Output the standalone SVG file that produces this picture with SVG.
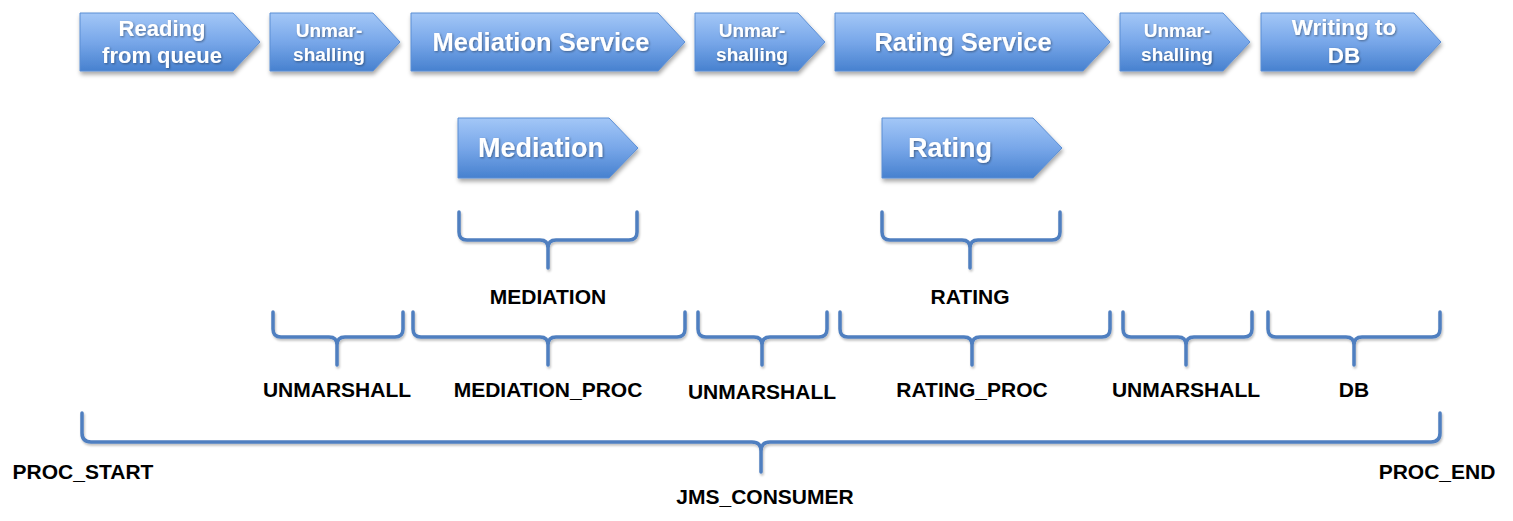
<svg xmlns="http://www.w3.org/2000/svg" width="1513" height="521" viewBox="0 0 1513 521">
<defs>
<linearGradient id="g" x1="0" y1="0" x2="0" y2="1">
<stop offset="0" stop-color="#a3c7f7"/>
<stop offset="0.5" stop-color="#78a7e9"/>
<stop offset="1" stop-color="#4781cf"/>
</linearGradient>
<filter id="sh" x="-10%" y="-20%" width="120%" height="150%">
<feDropShadow dx="1" dy="3" stdDeviation="2" flood-color="#000" flood-opacity="0.35"/>
</filter>
<filter id="tsh" x="-10%" y="-20%" width="120%" height="150%">
<feDropShadow dx="1" dy="1" stdDeviation="0.8" flood-color="#000" flood-opacity="0.4"/>
</filter>
<filter id="bsh" x="-5%" y="-20%" width="110%" height="150%">
<feDropShadow dx="1" dy="2" stdDeviation="1.2" flood-color="#000" flood-opacity="0.25"/>
</filter>
</defs>
<style>
.chev{fill:url(#g);stroke:#5b8ed4;stroke-width:1;filter:url(#sh)}
.ct{font-family:"Liberation Sans",Arial,sans-serif;font-weight:bold;fill:#fff;text-anchor:middle;filter:url(#tsh)}
.br{fill:none;stroke:#4f7fc0;stroke-width:3.5;stroke-linecap:round;stroke-linejoin:round;filter:url(#bsh)}
.lb{font-family:"Liberation Sans",Arial,sans-serif;font-weight:bold;font-size:21px;fill:#000;text-anchor:middle}
</style>
<rect width="1513" height="521" fill="#fff"/>

<g id="n-reading"><path class="chev" d="M80 13H233L260 42L233 71H80Z"/><text class="ct" font-size="22" x="162" y="36">Reading</text><text class="ct" font-size="22" x="162" y="63">from queue</text></g>
<g id="n-unmar1"><path class="chev" d="M270 13H373L400 42L373 71H270Z"/><text class="ct" font-size="19" x="329" y="37">Unmar-</text><text class="ct" font-size="19" x="329" y="61">shalling</text></g>
<g id="n-medserv"><path class="chev" d="M411 13H658L685 42L658 71H411Z"/><text class="ct" font-size="25.5" x="541" y="51">Mediation Service</text></g>
<g id="n-unmar2"><path class="chev" d="M695 13H798L825 42L798 71H695Z"/><text class="ct" font-size="19" x="752" y="37">Unmar-</text><text class="ct" font-size="19" x="752" y="61">shalling</text></g>
<g id="n-ratserv"><path class="chev" d="M835 13H1083L1110 42L1083 71H835Z"/><text class="ct" font-size="25.5" x="963" y="51">Rating Service</text></g>
<g id="n-unmar3"><path class="chev" d="M1120 13H1223L1250 42L1223 71H1120Z"/><text class="ct" font-size="19" x="1177" y="37">Unmar-</text><text class="ct" font-size="19" x="1177" y="61">shalling</text></g>
<g id="n-writing"><path class="chev" d="M1261 13H1414L1441 42L1414 71H1261Z"/><text class="ct" font-size="22.5" x="1344" y="35">Writing to</text><text class="ct" font-size="22.5" x="1344" y="63">DB</text></g>
<g id="n-mediation"><path class="chev" d="M458 118H609L638 148L609 178H458Z"/><text class="ct" font-size="27" x="541" y="157">Mediation</text></g>
<g id="n-rating"><path class="chev" d="M882 118H1033L1062 148L1033 178H882Z"/><text class="ct" font-size="27" x="950" y="157">Rating</text></g>

<g id="connectors">
<path class="br" d="M459 212V232Q459 240 467 240H540Q548 240 548 248V268M637 212V232Q637 240 629 240H556Q548 240 548 248"/>
<path class="br" d="M882 212V232Q882 240 890 240H962Q970 240 970 248V268M1060 212V232Q1060 240 1052 240H978Q970 240 970 248"/>
<path class="br" d="M273 312V329Q273 337 281 337H329Q337 337 337 345V365M403 312V329Q403 337 395 337H345Q337 337 337 345"/>
<path class="br" d="M413 312V329Q413 337 421 337H540Q548 337 548 345V365M685 312V329Q685 337 677 337H556Q548 337 548 345"/>
<path class="br" d="M698 312V329Q698 337 706 337H754Q762 337 762 345V365M827 312V329Q827 337 819 337H770Q762 337 762 345"/>
<path class="br" d="M840 312V329Q840 337 848 337H964Q972 337 972 345V365M1110 312V329Q1110 337 1102 337H980Q972 337 972 345"/>
<path class="br" d="M1123 312V329Q1123 337 1131 337H1178Q1186 337 1186 345V365M1252 312V329Q1252 337 1244 337H1194Q1186 337 1186 345"/>
<path class="br" d="M1268 312V329Q1268 337 1276 337H1346Q1354 337 1354 345V365M1440 312V329Q1440 337 1432 337H1362Q1354 337 1354 345"/>
<path class="br" d="M82 413V433Q82 442 91 442H752Q761 442 761 451V472M1440 413V433Q1440 442 1431 442H770Q761 442 761 451"/>
</g>

<g id="labels">
<text class="lb" x="548" y="304">MEDIATION</text>
<text class="lb" x="970" y="304">RATING</text>
<text class="lb" x="337" y="397">UNMARSHALL</text>
<text class="lb" x="548" y="397">MEDIATION_PROC</text>
<text class="lb" x="762" y="399">UNMARSHALL</text>
<text class="lb" x="972" y="397">RATING_PROC</text>
<text class="lb" x="1186" y="397">UNMARSHALL</text>
<text class="lb" x="1354" y="397">DB</text>
<text class="lb" x="83" y="479">PROC_START</text>
<text class="lb" x="1437" y="479">PROC_END</text>
<text class="lb" x="765" y="504">JMS_CONSUMER</text>
</g>
</svg>
